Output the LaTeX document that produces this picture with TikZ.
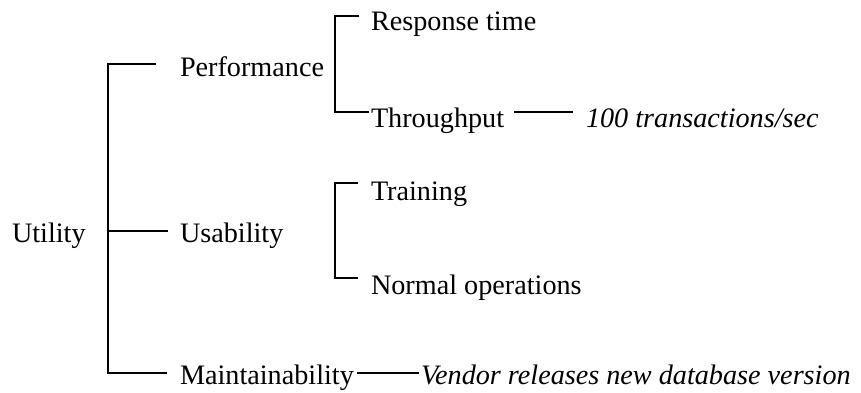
\documentclass[tikz,border=0pt]{standalone}
\usepackage{fontspec}
\setmainfont{Liberation Serif}
\begin{document}
\begin{tikzpicture}[x=0.5pt,y=-0.5pt,
  lbl/.style={anchor=base west,inner sep=0pt,outer sep=0pt,font=\fontsize{14.1}{16}\selectfont},
  ital/.style={lbl,font=\fontsize{14.1}{16}\selectfont\itshape},
  conn/.style={draw=black,line width=0.55pt}]
\useasboundingbox (0,0) rectangle (861,392);
% nodes
\node[lbl] (util) at (12,242) {Utility};
\node[lbl] (perf) at (180,76) {Performance};
\node[lbl] (usab) at (180,242) {Usability};
\node[lbl] (maint) at (180,384) {Maintainability};
\node[lbl] (resp) at (371,30) {Response time};
\node[lbl] (thru) at (371,127) {Throughput};
\node[ital] (rate) at (586,127) {100 transactions/sec};
\node[lbl] (train) at (371,200) {Training};
\node[lbl] (normal) at (371,294) {Normal operations};
\node[ital] (vendor) at (421,384) {Vendor releases new database version};
% coordinates
\coordinate (u1) at (108,64);
\coordinate (u1e) at (156,64);
\coordinate (um) at (108,231);
\coordinate (ume) at (168,231);
\coordinate (u2) at (108,373);
\coordinate (u2e) at (167,373);
\coordinate (p1) at (335,16);
\coordinate (p1e) at (359,16);
\coordinate (p2) at (335,112);
\coordinate (p2e) at (369,112);
\coordinate (t1) at (514,112);
\coordinate (t2) at (573,112);
\coordinate (s1) at (335,183);
\coordinate (s1e) at (358,183);
\coordinate (s2) at (335,278);
\coordinate (s2e) at (358,278);
\coordinate (m1) at (357,373);
\coordinate (m2) at (419,373);
% connectors
\draw[conn] (u1e) -- (u1) -- (u2) -- (u2e);
\draw[conn] (um) -- (ume);
\draw[conn] (p1e) -- (p1) -- (p2) -- (p2e);
\draw[conn] (t1) -- (t2);
\draw[conn] (s1e) -- (s1) -- (s2) -- (s2e);
\draw[conn] (m1) -- (m2);
\end{tikzpicture}
\end{document}
